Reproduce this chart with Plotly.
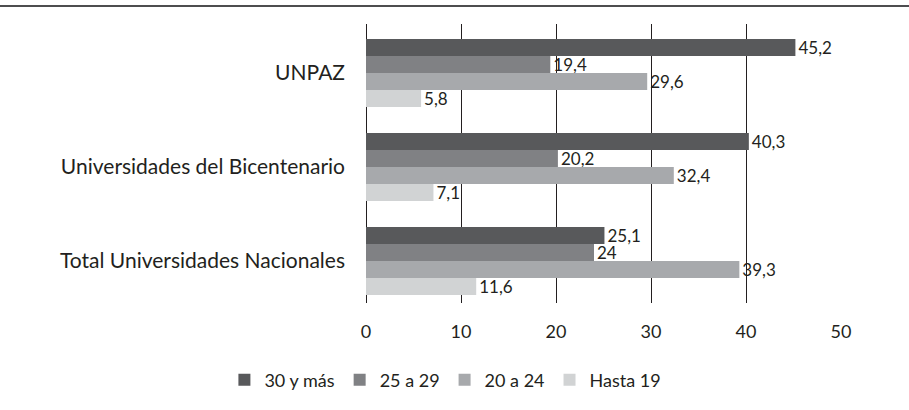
import plotly.graph_objects as go

categories = ["UNPAZ", "Universidades del Bicentenario", "Total Universidades Nacionales"]
series_names = ["30 y más", "25 a 29", "20 a 24", "Hasta 19"]
v_30_mas = [45.2, 40.3, 25.1]
v_25_29 = [19.4, 20.2, 24]
v_20_24 = [29.6, 32.4, 39.3]
v_hasta_19 = [5.8, 7.1, 11.6]
x_ticks = [0, 10, 20, 30, 40, 50]

series_values = [v_30_mas, v_25_29, v_20_24, v_hasta_19]
colors = ["#58595b", "#808184", "#a7a9ac", "#d1d3d4"]

FONT = "Lato"
TXT = "#231f20"
W, H = 909, 410
ml, mr, mt, mb = 366, 68, 24, 107

fig = go.Figure()
for name, vals, col in zip(series_names, series_values, colors):
    fig.add_trace(go.Bar(
        y=categories, x=vals, name=name, orientation="h",
        marker=dict(color=col, line=dict(width=0)),
        text=[("%g" % v).replace(".", ",") for v in vals],
        textposition="outside", cliponaxis=False, constraintext="none",
        textfont=dict(family=FONT, size=17, color=TXT),
    ))

pw = W - ml - mr
ph = H - mt - mb
fig.add_shape(type="line", xref="paper", yref="paper",
              x0=-ml / pw, x1=(W - ml) / pw,
              y0=1 + 18 / ph, y1=1 + 18 / ph,
              line=dict(color="#4d4d4f", width=2))

fig.update_layout(
    width=W, height=H,
    margin=dict(l=ml, r=mr, t=mt, b=mb, autoexpand=False),
    paper_bgcolor="white", plot_bgcolor="white",
    barmode="group", bargap=0.276, bargroupgap=0,
    font=dict(family=FONT, color=TXT),
    showlegend=True,
    legend=dict(orientation="h", xref="container", x=0.49, xanchor="center",
                yref="container", y=0.073, yanchor="middle",
                font=dict(family=FONT, size=18, color=TXT),
                itemwidth=30, tracegroupgap=0),
    xaxis=dict(range=[0, 50], tickvals=x_ticks, showgrid=True, gridcolor=TXT,
               gridwidth=1, zeroline=True, zerolinecolor=TXT, zerolinewidth=1,
               showline=False, ticks="", ticklabelstandoff=16, automargin=False,
               tickfont=dict(family=FONT, size=18, color=TXT)),
    yaxis=dict(range=[2.447, -0.521], showgrid=False, showline=False, ticks="",
               ticklabelstandoff=20, automargin=False,
               tickfont=dict(family=FONT, size=21, color=TXT)),
)

fig.write_html("out.html", config={"displayModeBar": False},
               post_script="document.body.style.margin='0';document.body.style.padding='0';")
